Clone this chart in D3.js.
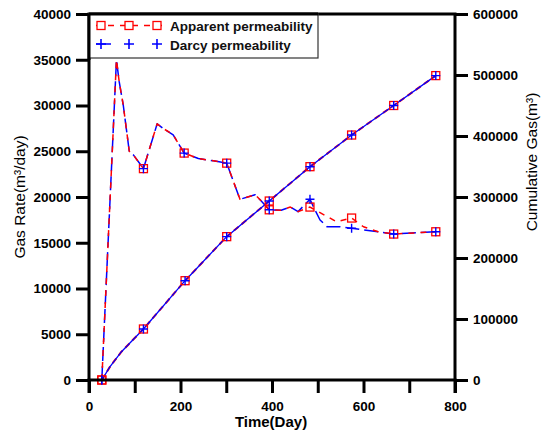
<!DOCTYPE html>
<html>
<head>
<meta charset="utf-8">
<script src="https://cdn.jsdelivr.net/npm/d3@7"></script>
<style>
  body { margin: 0; background: #fff; }
  svg { display: block; font-family: "Liberation Sans", Arial, sans-serif; }
</style>
</head>
<body>
<svg id="chart" width="543" height="432"></svg>
<script>
// Gas production: daily rate (left axis) and cumulative gas (right axis)
const rateDays       = [28, 60, 66, 75, 88, 97, 119, 149, 162, 184, 208, 239, 272, 301, 330, 363, 374, 394, 420, 440, 457, 483, 501, 541, 574, 600, 632, 666, 758];
const apparentRate   = [0, 35000, 32600, 30000, 25000, 24600, 23100, 28000, 27500, 26800, 24800, 24200, 23950, 23700, 19750, 20250, 19700, 18600, 18550, 18900, 18400, 18900, 18400, 17300, 17700, 16750, 16200, 15950, 16200];
const darcyRateDays  = [28, 60, 66, 75, 88, 97, 119, 149, 162, 184, 208, 239, 272, 301, 330, 363, 374, 394, 420, 440, 457, 483, 494, 505, 520, 549, 574, 600, 632, 666, 758];
const darcyRate      = [0, 35000, 32600, 30000, 25000, 24600, 23100, 28000, 27500, 26800, 24800, 24200, 23950, 23700, 19750, 20250, 19700, 18600, 18550, 18900, 18400, 19750, 18580, 17490, 16760, 16760, 16580, 16400, 16200, 15950, 16200];
const cumDays        = [28, 46, 71, 119, 210, 301, 394, 483, 574, 666, 758];
const apparentCum    = [0, 21900, 46400, 83600, 162800, 235000, 293400, 349700, 401600, 450000, 499000];
const darcyCum       = [0, 21900, 46400, 83600, 162800, 235000, 293400, 349700, 401600, 450000, 499000];
const markerDays     = [28, 119, 208, 210, 301, 394, 483, 574, 666, 758];
const xTicks         = [0, 100, 200, 300, 400, 500, 600, 700, 800];
const rateTicks      = [0, 5000, 10000, 15000, 20000, 25000, 30000, 35000, 40000];
const cumTicks       = [0, 100000, 200000, 300000, 400000, 500000, 600000];
const seriesNames    = ["Apparent permeability", "Darcy permeability"];

const RED = "#ff0000", BLUE = "#0000ff";
const svg = d3.select("#chart");
const L = 89, R = 455, T = 14, B = 380;

const x  = d3.scaleLinear().domain([0, 800]).range([L, R]);
const yL = d3.scaleLinear().domain([0, 40000]).range([B, T]);
const yR = d3.scaleLinear().domain([0, 600000]).range([B, T]);

const pts = (days, vals) => days.map((d, i) => [d, vals[i]]);
const isMarker = d => markerDays.includes(d[0]);

function drawLine(data, y, color, dash, width) {
  svg.append("path")
    .datum(data)
    .attr("fill", "none")
    .attr("stroke", color)
    .attr("stroke-width", width)
    .attr("stroke-dasharray", dash)
    .attr("stroke-linejoin", "round")
    .attr("d", d3.line().x(d => x(d[0])).y(d => y(d[1])));
}
function drawSquares(data, y) {
  svg.append("g").selectAll("rect").data(data.filter(isMarker)).join("rect")
    .attr("x", d => x(d[0]) - 4).attr("y", d => y(d[1]) - 4)
    .attr("width", 8).attr("height", 8)
    .attr("fill", "none").attr("stroke", RED).attr("stroke-width", 1.3);
}
function drawPluses(data, y) {
  svg.append("g").selectAll("path").data(data.filter(isMarker)).join("path")
    .attr("transform", d => `translate(${x(d[0])},${y(d[1])})`)
    .attr("d", "M-4.5,0H4.5M0,-4.5V4.5")
    .attr("fill", "none").attr("stroke", BLUE).attr("stroke-width", 1.4);
}

// cumulative gas
const appCum = pts(cumDays, apparentCum), darCum = pts(cumDays, darcyCum);
drawLine(appCum, yR, RED, "6,4", 2);
drawLine(darCum, yR, BLUE, null, 1.3);
// gas rate
const appRate = pts(rateDays, apparentRate), darRate = pts(darcyRateDays, darcyRate);
drawLine(darRate, yL, BLUE, "14,5", 1.5);
drawLine(appRate, yL, RED, "6,6", 1.5);

drawSquares(appCum, yR);
drawSquares(appRate, yL);
drawPluses(darCum, yR);
drawPluses(darRate, yL);

// axes
function styleAxis(g) {
  g.selectAll("line").attr("stroke", "#000").attr("stroke-width", 3);
  g.select(".domain").remove();
  g.selectAll("text").attr("fill", "#000").attr("font-weight", "bold").attr("font-size", "13.5px")
    .attr("font-family", "'Liberation Sans', Arial, sans-serif");
}
svg.append("g").attr("transform", `translate(0,${B})`)
  .call(d3.axisBottom(x).tickValues(xTicks).tickSize(13).tickPadding(8)
    .tickFormat(d => d % 200 === 0 ? d : ""))
  .call(styleAxis);
svg.append("g").attr("transform", `translate(${L},0)`)
  .call(d3.axisLeft(yL).tickValues(rateTicks).tickSize(13).tickPadding(5).tickFormat(d3.format("d")))
  .call(styleAxis);
svg.append("g").attr("transform", `translate(${R},0)`)
  .call(d3.axisRight(yR).tickValues(cumTicks).tickSize(13).tickPadding(5).tickFormat(d3.format("d")))
  .call(styleAxis);

// frame
const frame = svg.append("g").attr("stroke", "#000").attr("stroke-width", 3).attr("stroke-linecap", "square");
frame.append("line").attr("x1", L).attr("x2", R).attr("y1", B).attr("y2", B);
frame.append("line").attr("x1", L).attr("x2", R).attr("y1", T).attr("y2", T);
frame.append("line").attr("x1", L).attr("x2", L).attr("y1", T).attr("y2", B + 13).attr("stroke-linecap", "butt");
frame.append("line").attr("x1", R).attr("x2", R).attr("y1", T).attr("y2", B + 13).attr("stroke-linecap", "butt");

// axis titles
svg.append("text").attr("x", 271).attr("y", 427).attr("text-anchor", "middle")
  .attr("font-weight", "bold").attr("font-size", "15px").text("Time(Day)");
svg.append("text").attr("transform", "translate(25,197) rotate(-90)").attr("text-anchor", "middle")
  .attr("font-size", "15.5px").text("Gas Rate(m³/day)");
svg.append("text").attr("transform", "translate(537,162) rotate(-90)").attr("text-anchor", "middle")
  .attr("font-size", "15.5px").text("Cumulative Gas(m³)");

// legend
const lg = svg.append("g");
lg.append("rect").attr("x", L).attr("y", T).attr("width", 318 - L).attr("height", 58 - T)
  .attr("fill", "#fff").attr("stroke", "#333").attr("stroke-width", 1.2);
lg.append("line").attr("x1", L).attr("x2", 318).attr("y1", T).attr("y2", T).attr("stroke", "#000").attr("stroke-width", 3);
lg.append("line").attr("x1", L).attr("x2", L).attr("y1", T).attr("y2", 60).attr("stroke", "#000").attr("stroke-width", 3);
const legendX = [101, 129, 157];
const rows = [25.5, 44];
lg.append("line").attr("x1", 96).attr("x2", 162).attr("y1", rows[0]).attr("y2", rows[0])
  .attr("stroke", RED).attr("stroke-width", 1.5).attr("stroke-dasharray", "6,6");
lg.selectAll(".lsq").data(legendX).join("rect").attr("class", "lsq")
  .attr("x", d => d - 4).attr("y", rows[0] - 4).attr("width", 8).attr("height", 8)
  .attr("fill", "#fff").attr("stroke", RED).attr("stroke-width", 1.3);
lg.append("line").attr("x1", 96).attr("x2", 162).attr("y1", rows[1]).attr("y2", rows[1])
  .attr("stroke", BLUE).attr("stroke-width", 1.5).attr("stroke-dasharray", "15,100");
lg.selectAll(".lpl").data(legendX).join("path").attr("class", "lpl")
  .attr("transform", d => `translate(${d},${rows[1]})`)
  .attr("d", "M-5,0H5M0,-5V5").attr("fill", "none").attr("stroke", BLUE).attr("stroke-width", 1.6);
lg.selectAll(".ltx").data(seriesNames).join("text").attr("class", "ltx")
  .attr("x", 170).attr("y", (d, i) => rows[i] + 5.5)
  .attr("font-weight", "bold").attr("font-size", "13.5px").attr("fill", "#111").text(d => d);
</script>
</body>
</html>
